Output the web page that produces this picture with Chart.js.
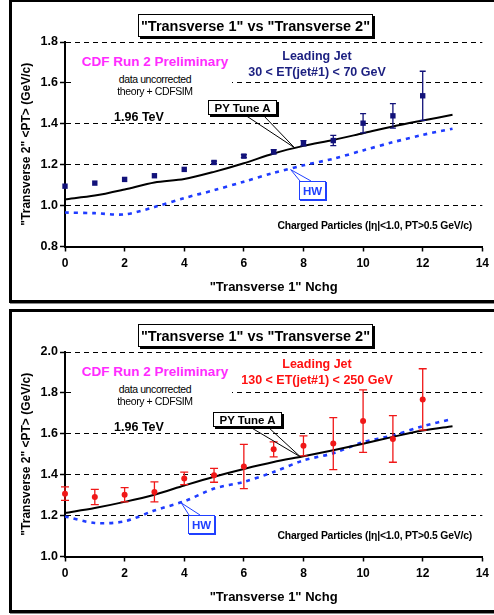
<!DOCTYPE html>
<html><head><meta charset="utf-8">
<script src="https://cdn.jsdelivr.net/npm/chart.js@4"></script>
<style>
html,body{margin:0;padding:0;background:#fff}
body{width:494px;height:615px;overflow:hidden;position:relative;font-family:"Liberation Sans",Arial,Helvetica,sans-serif}
.pw{position:absolute;left:0;width:494px;height:305px}
.frame{position:absolute;left:9px;width:520px;border:3px solid #000;box-sizing:border-box;box-shadow:1px 1px 0 #888}
canvas{position:absolute;left:0;top:0}
.t{position:absolute;white-space:nowrap;transform:translate(-50%,-50%);line-height:1}
.b{font-weight:bold}
.r{transform:translate(-100%,-50%)}
.tbox{position:absolute;border:1px solid #000;box-shadow:2px 2px 0 #000;background:#fff;display:flex;align-items:center;justify-content:center;font-weight:bold;white-space:nowrap;box-sizing:border-box}
.wbg{position:absolute;background:#fff}
</style>
</head><body>

<div class="pw" id="p1">
  <div class="frame" style="top:-1px;height:304px"></div>
  <canvas id="c1" width="494" height="300"></canvas>
</div>
<div class="pw" id="p2" style="top:310px">
  <div class="frame" style="top:-1px;height:304px"></div>
  <canvas id="c2" width="494" height="300"></canvas>
</div>

<script>
// ---------------- data ----------------
const nchg = [0,1,2,3,4,5,6,7,8,9,10,11,12];
const theoryNchg = [0,1,2,3,4,5,6,7,8,9,10,11,12,13];

// Panel 1: 30 < ET(jet#1) < 70 GeV
const cdf1 = [1.095,1.110,1.128,1.146,1.177,1.211,1.242,1.263,1.305,1.318,1.403,1.439,1.537];
const cdf1Err = [0,0,0,0,0,0.006,0.007,0.010,0.013,0.025,0.047,0.060,0.120];
const py1 = [1.031,1.049,1.079,1.113,1.130,1.165,1.207,1.255,1.292,1.321,1.354,1.387,1.416,1.444];
const hw1 = [0.966,0.963,0.957,0.993,1.037,1.075,1.117,1.160,1.197,1.229,1.270,1.310,1.346,1.376];

// Panel 2: 130 < ET(jet#1) < 250 GeV
const cdf2 = [1.307,1.291,1.302,1.316,1.382,1.397,1.440,1.524,1.541,1.552,1.662,1.575,1.768];
const cdf2Err = [0.033,0.037,0.035,0.049,0.031,0.034,0.108,0.037,0.049,0.127,0.153,0.114,0.150];
const py2 = [1.213,1.237,1.267,1.302,1.347,1.390,1.428,1.462,1.490,1.520,1.551,1.585,1.616,1.637];
const hw2 = [1.196,1.164,1.172,1.225,1.270,1.332,1.365,1.413,1.470,1.505,1.559,1.592,1.637,1.673];

const xTicks = [0,2,4,6,8,10,12,14];
const yTicks1 = [0.8,1.0,1.2,1.4,1.6,1.8];
const yTicks2 = [1.0,1.2,1.4,1.6,1.8,2.0];

const titleText = '"Transverse 1" vs "Transverse 2"';
const xTitle = '"Transverse 1" Nchg';
const yTitle = '"Transverse 2" <PT> (GeV/c)';

const FONT = '"Liberation Sans", Arial, Helvetica, sans-serif';

// ---------------- plugins ----------------
const errorBars = {
  id: 'errorBars',
  beforeDatasetDraw(chart, args) {
    const ds = chart.data.datasets[args.index];
    if (!ds.err) return;
    const {ctx, scales: {x, y}} = chart;
    ctx.save();
    ctx.strokeStyle = ds.errColor;
    ctx.lineWidth = 1.3;
    ds.data.forEach((p, i) => {
      const e = ds.err[i];
      if (!e) return;
      const px = x.getPixelForValue(p.x);
      const y1 = y.getPixelForValue(p.y + e);
      const y2 = y.getPixelForValue(p.y - e);
      const cw = ds.capW;
      ctx.beginPath();
      ctx.moveTo(px, y1); ctx.lineTo(px, y2);
      ctx.moveTo(px - cw, y1); ctx.lineTo(px + cw, y1);
      ctx.moveTo(px - cw, y2); ctx.lineTo(px + cw, y2);
      ctx.stroke();
    });
    ctx.restore();
  }
};

const callouts = {
  id: 'callouts',
  afterDatasetsDraw(chart, args, opts) {
    const {ctx, scales: {x, y}} = chart;
    (opts.items || []).forEach(it => {
      const tx = x.getPixelForValue(it.target[0]);
      const ty = y.getPixelForValue(it.target[1]);
      ctx.save();
      ctx.strokeStyle = it.color;
      ctx.lineWidth = 1;
      ctx.beginPath();
      it.from.forEach(f => { ctx.moveTo(f[0], f[1]); ctx.lineTo(tx, ty); });
      ctx.stroke();
      ctx.restore();
    });
  }
};

function makeChart(id, cfg) {
  const pts = nchg.map((n, i) => ({x: n, y: cfg.cdf[i]}));
  return new Chart(document.getElementById(id), {
    type: 'scatter',
    data: {
      datasets: [
        {
          label: 'CDF', data: pts, err: cfg.err, errColor: cfg.dataColor, capW: cfg.capW,
          showLine: false, pointStyle: cfg.pointStyle, pointRadius: cfg.pointRadius, clip: false,
          backgroundColor: cfg.dataColor, borderColor: cfg.dataColor, borderWidth: 0
        },
        {
          label: 'PY Tune A', data: theoryNchg.map((n, i) => ({x: n, y: cfg.py[i]})),
          showLine: true, pointRadius: 0, borderColor: '#000', borderWidth: 2, tension: 0.3, clip: false
        },
        {
          label: 'HW', data: theoryNchg.map((n, i) => ({x: n, y: cfg.hw[i]})),
          showLine: true, pointRadius: 0, borderColor: '#1f3cff', borderWidth: 2.6,
          borderDash: [4, 5], tension: 0.3, clip: false
        }
      ]
    },
    options: {
      responsive: false, animation: false, devicePixelRatio: 1,
      layout: {padding: {top: 42, right: 9, left: 0, bottom: 0}},
      plugins: {
        legend: {display: false}, tooltip: {enabled: false},
        callouts: {items: cfg.callouts}
      },
      scales: {
        x: {
          type: 'linear', min: 0, max: 14,
          afterFit(s) { s.height = 53.5; },
          afterBuildTicks(s) { s.ticks = xTicks.map(v => ({value: v})); },
          ticks: {color: '#000', font: {family: FONT, size: 12, weight: 'bold'}, padding: 5, maxRotation: 0},
          grid: {drawOnChartArea: false, drawTicks: true, tickLength: 5, tickColor: '#000', tickWidth: 1.5},
          border: {display: true, color: '#000', width: 2},
          title: {display: true, text: xTitle, color: '#000', font: {family: FONT, size: 13, weight: 'bold'}, padding: {top: 0, bottom: 5}}
        },
        y: {
          type: 'linear', min: cfg.yTicks[0], max: cfg.yTicks[cfg.yTicks.length - 1],
          afterFit(s) { s.width = 65; },
          afterBuildTicks(s) { s.ticks = cfg.yTicks.map(v => ({value: v})); },
          ticks: {color: '#000', font: {family: FONT, size: 12.5, weight: 'bold'}, padding: 2,
                  callback: v => Number(v).toFixed(1)},
          grid: {drawOnChartArea: true, drawTicks: true, tickLength: 5,
                 color: c => (c.tick && Math.abs(c.tick.value - cfg.yTicks[0]) < 1e-6) ? 'rgba(0,0,0,0)' : '#000',
                 lineWidth: 1, tickColor: '#000', tickWidth: 1.5, tickBorderDash: []},
          border: {display: true, color: '#000', width: 2, dash: [5, 4]},
          title: {display: true, text: yTitle, color: '#000', font: {family: FONT, size: 12, weight: 'bold'}, padding: {top: 19, bottom: 0}}
        }
      }
    },
    plugins: [errorBars, callouts]
  });
}

// ---------------- overlays ----------------
function addOverlay(pid, o) {
  const p = document.getElementById(pid);
  const h = `
    <div class="tbox" style="left:138px;top:14px;width:235px;height:23px;font-size:14.5px">${titleText}</div>
    <div class="wbg" style="left:72px;top:52px;width:160px;height:44px"></div>
    <div class="t b" style="left:155px;top:62px;font-size:13.5px;color:#ff2bff">CDF Run 2 Preliminary</div>
    <div class="t" style="left:155px;top:79px;font-size:10.5px;color:#000;letter-spacing:-0.4px">data uncorrected</div>
    <div class="t" style="left:155px;top:91px;font-size:10.5px;color:#000;letter-spacing:-0.4px">theory + CDFSIM</div>
    <div class="t b" style="left:139px;top:117px;font-size:12.5px;color:#000">1.96 TeV</div>
    <div class="t b" style="left:317px;top:${o.ljY}px;font-size:12.5px;color:${o.textColor}">Leading Jet</div>
    <div class="t b" style="left:317px;top:${o.ljY + 16}px;font-size:12.5px;color:${o.textColor}">${o.etText}</div>
    <div class="tbox" style="left:${o.py[0]}px;top:${o.py[1]}px;width:69px;height:15px;font-size:11.5px">PY Tune A</div>
    <div class="tbox" style="left:${o.hw[0]}px;top:${o.hw[1]}px;width:27px;height:19px;font-size:11.5px;color:#2040ff;border-color:#2040ff;box-shadow:1px 1px 0 #2040ff">HW</div>
    <div class="t b r" style="left:472px;top:226px;font-size:10.4px;color:#000;letter-spacing:-0.2px">Charged Particles (|η|&lt;1.0, PT&gt;0.5 GeV/c)</div>
  `;
  p.insertAdjacentHTML('beforeend', h);
}

const pyBox1 = [208, 100], hwBox1 = [299, 181];
const pyBox2 = [213, 102], hwBox2 = [188, 205];

makeChart('c1', {
  cdf: cdf1, err: cdf1Err, py: py1, hw: hw1, yTicks: yTicks1,
  dataColor: '#12127a', pointStyle: 'rect', pointRadius: 3.8, capW: 3,
  callouts: [
    {target: [7.7, 1.283], color: '#000', from: [[pyBox1[0] + 37, pyBox1[1] + 15], [pyBox1[0] + 55, pyBox1[1] + 15]]},
    {target: [7.57, 1.176], color: '#2040ff', from: [[hwBox1[0] + 1, hwBox1[1]], [hwBox1[0] + 12, hwBox1[1]]]}
  ]
});
makeChart('c2', {
  cdf: cdf2, err: cdf2Err, py: py2, hw: hw2, yTicks: yTicks2,
  dataColor: '#f01818', pointStyle: 'circle', pointRadius: 3, capW: 4,
  callouts: [
    {target: [7.9, 1.487], color: '#000', from: [[pyBox2[0] + 37, pyBox2[1] + 15], [pyBox2[0] + 55, pyBox2[1] + 15]]},
    {target: [3.9, 1.262], color: '#2040ff', from: [[hwBox2[0] + 1, hwBox2[1]], [hwBox2[0] + 12, hwBox2[1]]]}
  ]
});

addOverlay('p1', {ljY: 56, textColor: '#1b1f80', etText: '30 &lt; ET(jet#1) &lt; 70 GeV', py: pyBox1, hw: hwBox1});
addOverlay('p2', {ljY: 54, textColor: '#ff1010', etText: '130 &lt; ET(jet#1) &lt; 250 GeV', py: pyBox2, hw: hwBox2});
</script>
</body></html>
